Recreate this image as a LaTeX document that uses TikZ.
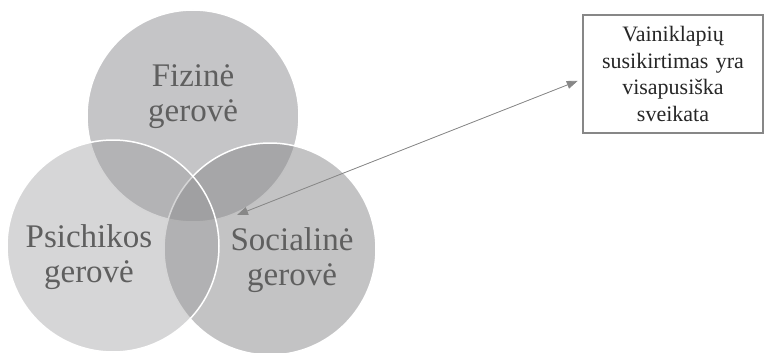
\documentclass[tikz,border=0pt]{standalone}
\usepackage{fontspec}
\setmainfont{Liberation Serif}
\usepackage{xcolor}
\usetikzlibrary{positioning,arrows.meta}

\definecolor{fizfill}{RGB}{197,197,199}
\definecolor{socfill}{RGB}{137,137,139}
\definecolor{psifill}{RGB}{152,152,154}
\definecolor{txtgray}{RGB}{95,95,95}
\definecolor{linegray}{RGB}{135,135,135}

\begin{document}
\begin{tikzpicture}[
			x=1pt, y=-1pt,
			>={Triangle[length=11pt,width=8pt]},
			ring/.style={circle, draw=white, line width=1.5pt, minimum size=212pt, inner sep=0pt},
			ringtext/.style={text=txtgray, align=center, font=\fontsize{33}{35}\selectfont},
			infobox/.style={rectangle, draw=linegray, line width=1.2pt, text width=172pt, inner sep=4pt, minimum height=118pt, align=center, font=\fontsize{22}{26.5}\selectfont, text=black!85},
		]
		\useasboundingbox (0,0) rectangle (766,353);

		% circles
		\node[ring, fill=fizfill] (fiz) at (193,116) {};
		\node[ring, fill=socfill, fill opacity=0.51] (soc) at (270,249) {};
		\node[ring, fill=psifill, fill opacity=0.4] (psi) at (113,246) {};

		% labels
		\node[ringtext] (fiztext) at (193,97)  {Fizinė\\gerovė};
		\node[ringtext] (psitext) at (89,257)  {Psichikos\\gerovė};
		\node[ringtext] (soctext) at (292,260) {Socialinė\\gerovė};

		\node[infobox] (sveik) at (673,74) {Vainiklapių\\susikirtimas yra\\visapusiška\\sveikata};

		\coordinate (mid) at (237,215);
		\draw[<->, draw=linegray, fill=linegray, line width=0.8pt, shorten >=5pt] (mid) -- ([yshift=-5pt]sveik.west);

		\end{tikzpicture}
\end{document}
